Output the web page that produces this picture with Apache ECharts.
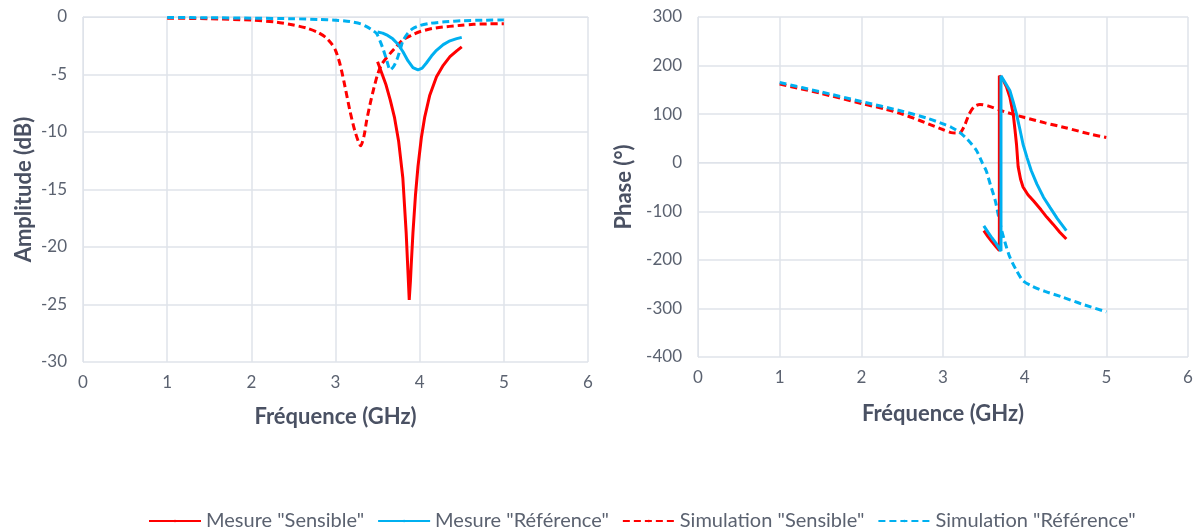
<!DOCTYPE html>
<html>
<head>
<meta charset="utf-8">
<script src="https://cdn.jsdelivr.net/npm/echarts@6/dist/echarts.min.js"></script>
<style>
html,body{margin:0;padding:0;background:#fff;}
#c{width:1198px;height:528px;}
</style>
</head>
<body>
<div id="c"></div>
<script>
// ---- Data ----
const seriesNames = ['Mesure "Sensible"', 'Mesure "Référence"', 'Simulation "Sensible"', 'Simulation "Référence"'];

// Amplitude (dB) vs frequency (GHz)
const ampMesSensX = [3.5,3.55,3.6,3.65,3.7,3.75,3.8,3.84,3.86,3.876,3.89,3.9,3.92,3.95,3.98,4.02,4.06,4.12,4.2,4.28,4.36,4.44,4.5];
const ampMesSensY = [-3.9,-4.9,-5.9,-7.2,-8.7,-10.8,-14.0,-18.8,-22.0,-24.6,-23.0,-21.5,-18.8,-15.5,-13.0,-10.5,-8.7,-6.8,-5.2,-4.2,-3.45,-2.95,-2.6];

const ampMesRefX = [3.5,3.56,3.62,3.68,3.74,3.8,3.86,3.92,3.98,4.03,4.08,4.14,4.2,4.28,4.36,4.44,4.5];
const ampMesRefY = [-1.3,-1.4,-1.6,-1.9,-2.35,-3.0,-3.8,-4.4,-4.6,-4.45,-4.0,-3.4,-2.9,-2.4,-2.07,-1.88,-1.77];

const ampSimSensX = [1.0,1.5,2.0,2.3,2.5,2.65,2.78,2.88,2.95,3.0,3.05,3.1,3.17,3.23,3.3,3.34,3.37,3.41,3.45,3.5,3.55,3.65,3.72,3.8,3.9,4.0,4.15,4.32,4.5,4.64,4.8,5.0];
const ampSimSensY = [-0.1,-0.15,-0.27,-0.45,-0.7,-0.95,-1.3,-1.75,-2.3,-2.9,-4.0,-5.6,-8.1,-9.9,-11.2,-10.3,-9.0,-7.6,-6.35,-5.0,-4.1,-3.16,-2.6,-2.0,-1.6,-1.28,-1.0,-0.84,-0.72,-0.64,-0.6,-0.58];

const ampSimRefX = [1.0,1.5,2.0,2.5,2.8,3.0,3.17,3.3,3.37,3.45,3.49,3.53,3.57,3.61,3.65,3.69,3.73,3.77,3.8,3.86,3.92,4.0,4.12,4.3,4.52,4.75,5.0];
const ampSimRefY = [-0.05,-0.06,-0.1,-0.15,-0.22,-0.28,-0.4,-0.6,-0.84,-1.2,-1.45,-2.1,-2.87,-3.8,-4.6,-4.3,-3.7,-2.8,-2.1,-1.4,-1.0,-0.75,-0.55,-0.42,-0.32,-0.28,-0.25];

// Phase (°) vs frequency (GHz)
const phMesSensX = [3.5,3.55,3.6,3.65,3.69,3.69,3.74,3.78,3.82,3.86,3.88,3.9,3.92,3.95,3.98,4.04,4.11,4.2,4.27,4.35,4.43,4.51];
const phMesSensY = [-140,-152,-163,-173,-181,179,169,155,134,100,70,38,-8,-34,-50,-66,-79,-97,-112,-127,-143,-157];

const phMesRefX = [3.5,3.55,3.6,3.65,3.71,3.71,3.76,3.82,3.86,3.9,3.94,3.98,4.03,4.08,4.15,4.23,4.31,4.4,4.51];
const phMesRefY = [-130,-143,-155,-166,-182,179,165,148,125,100,70,38,10,-16,-44,-71,-92,-115,-140];

const phSimSensX = [1.0,1.5,2.0,2.3,2.5,2.7,2.85,3.0,3.1,3.2,3.26,3.32,3.38,3.45,3.55,3.7,3.85,4.0,4.25,4.5,4.8,5.0];
const phSimSensY = [162,143,122,110,100,88,78,68,62,61,75,100,115,120,117,108,100,93,82,72,59,52];

const phSimRefX = [1.0,1.5,2.0,2.5,2.8,3.0,3.1,3.2,3.3,3.41,3.48,3.53,3.58,3.64,3.68,3.72,3.77,3.82,3.9,3.98,4.1,4.25,4.45,4.7,5.0];
const phSimRefY = [165,146,126,106,92,80,73,63,48,25,0,-17,-45,-78,-110,-140,-170,-195,-222,-243,-255,-265,-276,-291,-307];

// ---- Build ----
const zip = (xs, ys) => xs.map((x, i) => [x, ys[i]]);
const RED = '#FF0000', BLUE = '#00B0F0';
const FONT = 'Lato, "Open Sans", sans-serif';
const tickColor = '#5b6270';
const titleColor = '#4a5163';
const gridColor = '#dfe3ea';

function mk(name, data, color, dashed, idx) {
  return {
    name: name, type: 'line', data: data,
    xAxisIndex: idx, yAxisIndex: idx,
    symbol: 'none', showSymbol: false, smooth: dashed ? 0.25 : false,
    lineStyle: { color: color, width: 3, type: dashed ? [7, 4] : 'solid' },
    itemStyle: { color: color },
    animation: false, z: dashed ? 2 : 3
  };
}

function xAx(idx, gap) {
  return {
    gridIndex: idx, type: 'value', min: 0, max: 6, interval: 1,
    name: 'Fréquence (GHz)', nameLocation: 'middle', nameGap: gap,
    nameTextStyle: { fontFamily: FONT, fontSize: 22, fontWeight: 'bold', color: titleColor },
    axisLine: { show: true, lineStyle: { color: gridColor, width: 1 } },
    axisTick: { show: false },
    axisLabel: { fontFamily: FONT, fontSize: 17, color: tickColor, margin: 12 },
    splitLine: { show: true, lineStyle: { color: gridColor, width: 1.5 } }
  };
}
function yAx(idx, name, min, max, interval, gap) {
  return {
    gridIndex: idx, type: 'value', min: min, max: max, interval: interval,
    name: name, nameLocation: 'middle', nameGap: gap, nameRotate: 90,
    nameTextStyle: { fontFamily: FONT, fontSize: 22, fontWeight: 'bold', color: titleColor },
    axisLine: { show: true, lineStyle: { color: gridColor, width: 1 } },
    axisTick: { show: false },
    axisLabel: { fontFamily: FONT, fontSize: 17, color: tickColor, margin: 16 },
    splitLine: { show: true, lineStyle: { color: gridColor, width: 1.5 } }
  };
}

const chart = echarts.init(document.getElementById('c'), null, { renderer: 'canvas' });
chart.setOption({
  backgroundColor: '#ffffff',
  animation: false,
  grid: [
    { left: 83, right: 610, top: 17, bottom: 166, containLabel: false },
    { left: 698, right: 10, top: 17, bottom: 171, containLabel: false }
  ],
  xAxis: [xAx(0, 44), xAx(1, 46)],
  yAxis: [yAx(0, 'Amplitude (dB)', -30, 0, 5, 48), yAx(1, 'Phase (°)', -400, 300, 100, 63)],
  legend: {
    data: seriesNames, left: 143, top: 506,
    itemWidth: 52, itemHeight: 3, itemGap: 13,
    textStyle: { fontFamily: FONT, fontSize: 20, color: tickColor }
  },
  series: [
    mk(seriesNames[0], zip(ampMesSensX, ampMesSensY), RED, false, 0),
    mk(seriesNames[1], zip(ampMesRefX, ampMesRefY), BLUE, false, 0),
    mk(seriesNames[2], zip(ampSimSensX, ampSimSensY), RED, true, 0),
    mk(seriesNames[3], zip(ampSimRefX, ampSimRefY), BLUE, true, 0),
    mk(seriesNames[0], zip(phMesSensX, phMesSensY), RED, false, 1),
    mk(seriesNames[1], zip(phMesRefX, phMesRefY), BLUE, false, 1),
    mk(seriesNames[2], zip(phSimSensX, phSimSensY), RED, true, 1),
    mk(seriesNames[3], zip(phSimRefX, phSimRefY), BLUE, true, 1)
  ]
});
</script>
</body>
</html>
